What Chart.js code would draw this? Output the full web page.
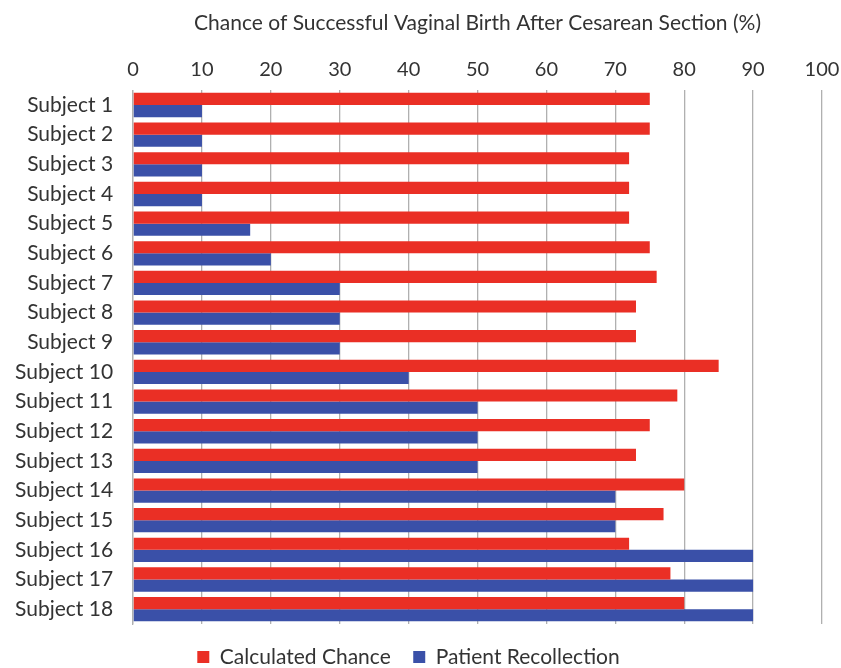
<!DOCTYPE html>
<html><head><meta charset="utf-8">
<script src="https://cdn.jsdelivr.net/npm/chart.js@4"></script>
<style>html,body{margin:0;padding:0;background:#fff}#w{width:841px;height:668px}</style>
</head><body><div id="w"><canvas id="c"></canvas></div>
<script>
const categories = ["Subject 1","Subject 2","Subject 3","Subject 4","Subject 5","Subject 6","Subject 7","Subject 8","Subject 9","Subject 10","Subject 11","Subject 12","Subject 13","Subject 14","Subject 15","Subject 16","Subject 17","Subject 18"];
const calculatedChance = [75,75,72,72,72,75,76,73,73,85,79,75,73,80,77,72,78,80];
const patientRecollection = [10,10,10,10,17,20,30,30,30,40,50,50,50,70,70,90,90,90];
const xTicks = [0,10,20,30,40,50,60,70,80,90,100];
const FONT = "Lato, 'Open Sans', sans-serif";
new Chart(document.getElementById('c'), {
  type: 'bar',
  data: { labels: categories, datasets: [
    { label: 'Calculated Chance', data: calculatedChance, backgroundColor: '#ea2f25' },
    { label: 'Patient Recollection', data: patientRecollection, backgroundColor: '#3a50a8' }
  ]},
  options: {
    indexAxis: 'y', responsive: true, maintainAspectRatio: false, animation: false,
    devicePixelRatio: 1,
    layout: { padding: { left: -5, right: 19, top: 11, bottom: -9.5 } },
    datasets: { bar: { categoryPercentage: 0.82, barPercentage: 1.0 } },
    scales: {
      x: { position: 'top', min: 0, max: 100,
        afterBuildTicks: a => { a.ticks = xTicks.map(v => ({ value: v })); },
        afterFit: s => { s.paddingRight = 0; },
        ticks: { color: '#333', font: { family: FONT, size: 20 }, padding: 9 },
        grid: { color: '#b0b0b0', lineWidth: 1.3, drawTicks: false },
        border: { display: false },
        title: { display: true, text: 'Chance of Successful Vaginal Birth After Cesarean Section (%)', color: '#333', font: { family: FONT, size: 21 }, padding: { top: 0, bottom: 12 } }
      },
      y: { ticks: { color: '#333', font: { family: FONT, size: 21 }, padding: 20 },
        grid: { display: false, drawTicks: false }, border: { display: true, color: '#b0b0b0', width: 1.3 } }
    },
    plugins: {
      legend: { position: 'bottom', labels: { boxWidth: 12, boxHeight: 12, color: '#333', padding: 22.5, font: { family: FONT, size: 21 } } },
      tooltip: { enabled: false }
    }
  }
});
</script></body></html>
